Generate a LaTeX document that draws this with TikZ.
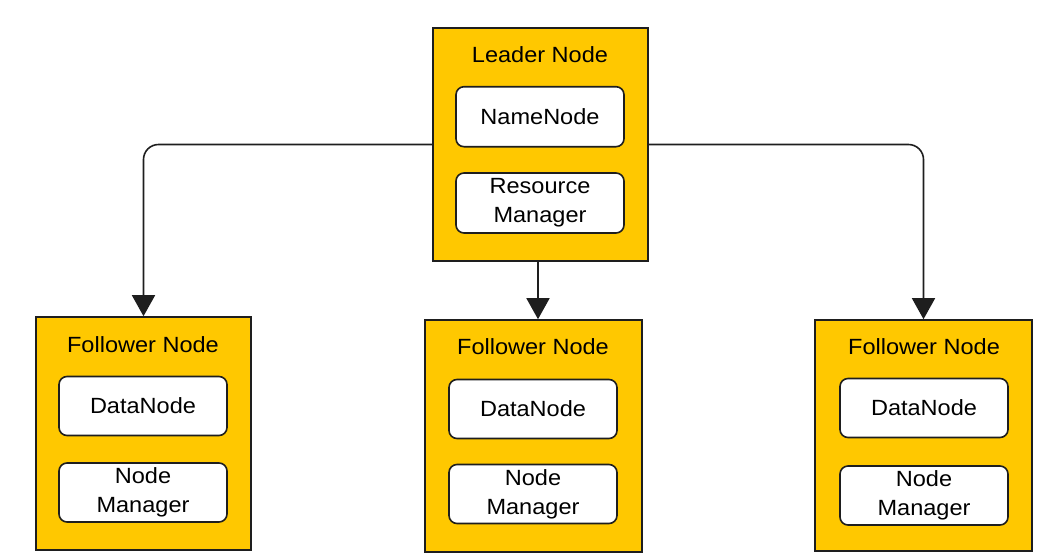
\documentclass[tikz,border=0pt]{standalone}
\usepackage{fontspec}
\setmainfont{Liberation Sans}[FakeStretch=1.07]
\usetikzlibrary{arrows.meta}
\definecolor{boxyellow}{RGB}{255,200,0}
\definecolor{edge}{RGB}{30,30,30}
\begin{document}
\begin{tikzpicture}[x=1pt,y=-1pt,
  outer/.style={draw=edge,line width=1.6pt,fill=boxyellow,minimum width=215pt,minimum height=232pt,inner sep=0pt},
  inner/.style={draw=edge,line width=1.6pt,fill=white,rounded corners=8pt,minimum width=168pt,minimum height=59pt,inner sep=0pt,align=center,font=\fontsize{22}{29}\selectfont},
  title/.style={font=\fontsize{22}{29}\selectfont,inner sep=0pt},
  conn/.style={draw=edge,line width=1.6pt,rounded corners=15pt,-{Triangle[width=23pt,length=21pt]}}]
\useasboundingbox (0,0) rectangle (1055,558);
% leader
\node[outer,minimum height=233pt] (leader) at (540.5,144.5) {};
\node[title] (lt) at (540,55) {Leader Node};
\node[inner,minimum height=60pt] (nn) at (540,116.7) {NameNode};
\node[inner,minimum height=60pt] (rm) at (540,203) {Resource\\Manager};
% left follower
\node[outer,minimum height=233pt] (lf) at (143.5,433.5) {};
\node[title] (lft) at (143,345) {Follower Node};
\node[inner] (ldn) at (143,406) {DataNode};
\node[inner] (lnm) at (143,492.5) {Node\\Manager};
% middle follower
\node[outer,minimum width=217pt] (mf) at (533.5,436) {};
\node[title] (mft) at (533,347) {Follower Node};
\node[inner] (mdn) at (533,409) {DataNode};
\node[inner] (mnm) at (533,494) {Node\\Manager};
% right follower
\node[outer,minimum width=217pt,minimum height=231pt] (rf) at (923.5,435.5) {};
\node[title] (rft) at (924,347) {Follower Node};
\node[inner] (rdn) at (924,408) {DataNode};
\node[inner] (rnm) at (924,495.5) {Node\\Manager};
% connectors
\draw[conn] (leader.west) -- (lf.north |- leader.west) -- (lf.north);
\draw[conn] (leader.east) -- (rf.north |- leader.east) -- (rf.north);
\draw[conn] ([xshift=-2.5pt]leader.south) -- ([xshift=-2.5pt]leader.south |- mf.north);
\end{tikzpicture}
\end{document}
